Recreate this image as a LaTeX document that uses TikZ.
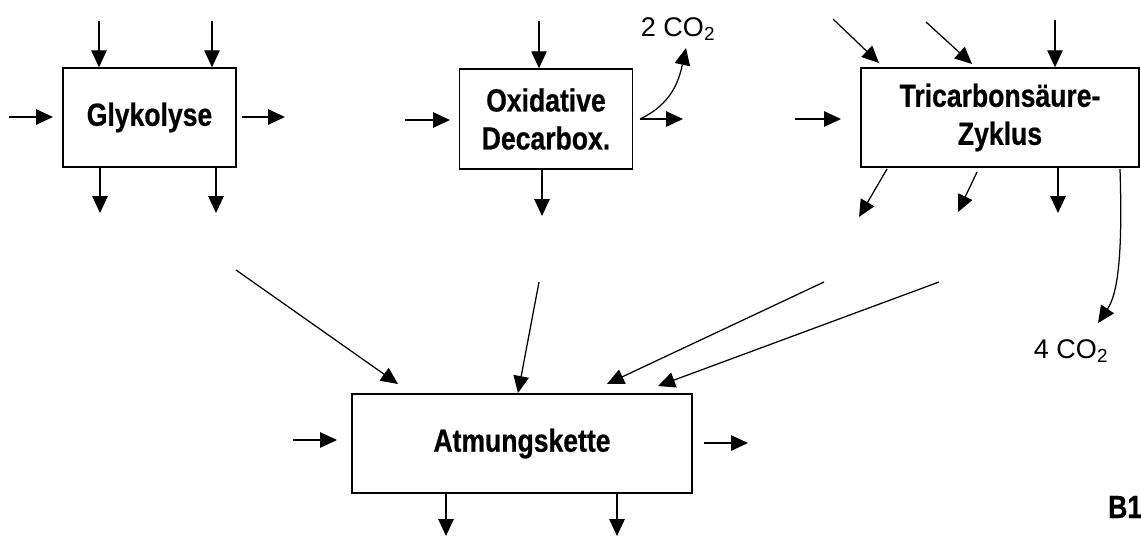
\documentclass[tikz,border=0pt]{standalone}
\usepackage{fontspec}
\setmainfont{Liberation Sans}
\newfontfamily\narrowfont[FakeStretch=0.83, BoldFeatures={FakeBold=0.6}]{Liberation Sans}
\usetikzlibrary{arrows.meta}
\begin{document}
\begin{tikzpicture}[x=1pt,y=-1pt,
  box/.style={draw, line width=1.5pt, inner sep=0pt, align=center,
    font=\narrowfont\bfseries\fontsize{32}{38}\selectfont},
  arr/.style={-{Triangle[length=17pt,width=15.5pt]}, line width=1.25pt},
  lbl/.style={inner sep=0pt, font=\fontsize{27}{30}\selectfont}]
\useasboundingbox (0,0) rectangle (1141,536);

% boxes
\node[box, minimum width=173pt, minimum height=99pt] (g) at (149.5,117.5) {Glykolyse};
\node[box, minimum width=173pt, minimum height=100pt] (o) at (546,119) {Oxidative\\Decarbox.};
\node[box, minimum width=278pt, minimum height=99pt] (t) at (1000,117.5) {Tricarbons\"aure-\\Zyklus};
\node[box, minimum width=340pt, minimum height=99pt] (a) at (522,443.5) {Atmungskette};

% labels
\node[lbl, anchor=base] (c2) at (678,36) {2 CO\textsubscript{2}};
\node[lbl, anchor=base] (c4) at (1071,358) {4 CO\textsubscript{2}};
\node[inner sep=0pt, anchor=base west, font=\narrowfont\bfseries\fontsize{32}{38}\selectfont] (b1) at (1108,518) {B1};

% free ends
\coordinate (g1) at (99,21);
\coordinate (g2) at (212,21);
\coordinate (gl1) at (9,117);   \coordinate (gl2) at (53,117);
\coordinate (gr1) at (242,117); \coordinate (gr2) at (285,117);
\coordinate (gb1) at (100,213); \coordinate (gb2) at (216,213);

\coordinate (o1) at (539,21);
\coordinate (ol1) at (405,120); \coordinate (ol2) at (450,120);
\coordinate (or1) at (640,119); \coordinate (or2) at (683,119);
\coordinate (oc) at (686,48);
\coordinate (ob) at (542,216);

\coordinate (t1a) at (833,19);  \coordinate (t1b) at (879,63);
\coordinate (t2a) at (926,22);  \coordinate (t2b) at (972,64);
\coordinate (t3) at (1055,20);
\coordinate (tl1) at (795,119); \coordinate (tl2) at (841,119);
\coordinate (tb1a) at (887,169); \coordinate (tb1b) at (859,217);
\coordinate (tb2a) at (977,172); \coordinate (tb2b) at (958,212);
\coordinate (tb3) at (1058,213);
\coordinate (tc1) at (1120,169); \coordinate (tc2) at (1098,323);

\coordinate (al1) at (293,440); \coordinate (al2) at (337,440);
\coordinate (ar1) at (704,443); \coordinate (ar2) at (748,443);
\coordinate (ab1) at (446,536); \coordinate (ab2) at (617,536);
\coordinate (i1a) at (236,270); \coordinate (i1b) at (398,384);
\coordinate (i2a) at (539,282); \coordinate (i2b) at (518,393);
\coordinate (i3a) at (824,282); \coordinate (i3b) at (607,384);
\coordinate (i4a) at (939,282); \coordinate (i4b) at (658,386);

% Glykolyse
\draw[arr] (g1) -- (g1 |- g.north);
\draw[arr] (g2) -- (g2 |- g.north);
\draw[arr] (gl1) -- (gl2);
\draw[arr] (gr1) -- (gr2);
\draw[arr] (gb1 |- g.south) -- (gb1);
\draw[arr] (gb2 |- g.south) -- (gb2);

% Oxidative Decarbox.
\draw[arr] (o1) -- (o1 |- o.north);
\draw[arr] (ol1) -- (ol2);
\draw[arr] (or1) -- (or2);
\draw[arr] (or1) .. controls (672,104) and (679,80) .. (oc);
\draw[arr] (ob |- o.south) -- (ob);

% Tricarbonsaeure-Zyklus
\draw[arr] (t1a) -- (t1b);
\draw[arr] (t2a) -- (t2b);
\draw[arr] (t3) -- (t3 |- t.north);
\draw[arr] (tl1) -- (tl2);
\draw[arr] (tb1a) -- (tb1b);
\draw[arr] (tb2a) -- (tb2b);
\draw[arr] (tb3 |- t.south) -- (tb3);
\draw[arr] (tc1) .. controls (1123,260) and (1117,295) .. (tc2);

% Atmungskette
\draw[arr] (al1) -- (al2);
\draw[arr] (ar1) -- (ar2);
\draw[arr] (ab1 |- a.south) -- (ab1);
\draw[arr] (ab2 |- a.south) -- (ab2);
\draw[arr] (i1a) -- (i1b);
\draw[arr] (i2a) -- (i2b);
\draw[arr] (i3a) -- (i3b);
\draw[arr] (i4a) -- (i4b);
\end{tikzpicture}
\end{document}
